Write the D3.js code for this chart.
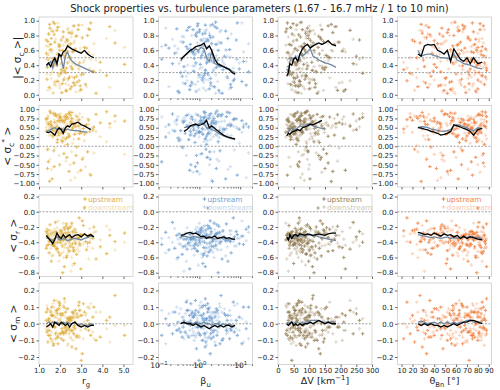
<!DOCTYPE html>
<html>
<head>
<meta charset="utf-8">
<script src="https://d3js.org/d3.v7.min.js"></script>
<style>
  body { margin: 0; background: #fff; }
  svg { font-family: "DejaVu Sans", sans-serif; }
  .axis path { display: none; }
  .axis line { stroke: #444; stroke-width: 0.8; }
  .axis text { font-size: 7px; fill: #222; font-family: "DejaVu Sans", sans-serif; }
</style>
</head>
<body>
<div id="chart"></div>
<script>
// shock parameters of each event (x of the four columns)
const rg = [1.45,2.10,1.82,2.65,3.10,1.55,2.30,2.05,1.70,2.85,2.40,1.35,3.45,2.20,1.95,2.55,1.60,2.75,4.20,2.00,
  1.88,2.48,3.25,1.40,2.15,2.90,1.75,2.35,3.70,2.60,1.50,2.25,1.98,2.70,1.65,3.05,2.45,1.85,5.05,2.12,
  2.80,1.42,2.58,3.35,1.92,2.28,1.72,3.90,2.38,2.02,1.58,2.95,2.18,1.68,2.52,3.15,1.38,2.42,1.80,4.60,
  2.08,2.62,1.52,3.55,2.32,1.90,2.72,2.22,1.62,3.00,2.50,1.78,2.88,1.48,2.26,3.30,2.05,1.95,2.68,4.35,
  1.44,2.36,3.20,1.86,2.56,1.66,2.98,2.14,3.60,1.74,2.44,2.78,1.56,3.40,2.30,1.98,2.64,1.34,2.92,2.16];
const betaU = [1.2,0.45,2.8,0.9,1.6,5.5,0.3,1.1,3.2,0.7,1.9,0.25,8.5,1.4,0.6,2.3,12.0,0.85,1.3,4.1,
  0.55,1.75,0.18,2.6,1.0,6.8,0.4,1.5,3.6,0.95,2.1,0.35,1.25,14.0,0.75,1.85,4.8,0.5,1.05,2.9,
  0.65,1.45,9.5,0.28,1.7,3.0,0.8,2.2,0.15,1.35,5.0,0.6,1.15,2.5,0.42,1.6,7.2,0.88,1.95,3.4,
  0.32,1.28,2.7,0.72,1.55,11.0,0.52,1.08,4.4,0.98,2.0,0.22,1.4,6.0,0.68,1.8,3.8,0.48,1.22,2.4,
  0.12,1.65,5.8,0.78,1.38,3.1,0.58,2.15,16.0,0.92,1.5,0.38,2.55,1.02,4.6,0.62,1.9,8.0,0.82,1.18];
const deltaV = [45,120,70,160,35,85,210,60,95,140,55,75,30,110,180,65,50,130,90,250,
  40,100,80,150,25,68,195,58,125,88,170,48,105,72,38,135,62,230,82,115,
  52,145,92,28,78,190,66,108,42,270,98,56,155,74,33,128,86,175,46,112,
  64,205,94,36,138,70,54,165,102,44,84,240,60,118,32,96,148,76,50,185,
  68,104,40,132,88,58,215,72,122,48,160,90,36,78,142,62,100,260,54,116];
const thetaBn = [45,72,30,85,60,55,78,20,66,82,50,38,75,88,62,25,70,48,84,58,
  35,80,68,42,76,15,64,86,52,74,28,81,57,46,70,33,87,63,40,79,
  54,22,73,67,83,49,36,77,61,18,71,44,85,59,31,80,65,52,75,27,
  69,83,47,39,78,56,87,24,62,72,43,81,66,34,76,58,12,84,51,68,
  74,40,86,63,29,79,55,71,46,82,60,37,77,53,88,65,32,73,57,80];

// turbulence parameters of each event (y of the four rows)
const sigmaCUp = [0.82,0.15,0.47,0.93,0.28,0.61,0.05,0.74,0.39,0.88,0.22,0.56,0.97,0.33,0.68,0.11,0.45,0.79,0.26,0.52,
  0.91,0.08,0.63,0.37,0.85,0.19,0.71,0.43,0.02,0.58,0.95,0.30,0.66,0.13,0.49,0.77,0.24,0.87,0.41,0.60,
  0.17,0.72,0.35,0.89,0.54,0.06,0.81,0.44,0.67,0.29,0.76,0.12,0.53,0.98,0.38,0.64,0.21,0.84,0.46,0.70,
  0.03,0.59,0.90,0.32,0.75,0.18,0.62,0.50,0.86,0.27,0.69,0.42,0.94,0.10,0.57,0.80,0.34,0.65,0.23,0.92,
  0.48,0.73,0.14,0.55,0.83,0.40,0.07,0.78,0.31,0.96,0.51,0.25,0.68,0.88,0.36,0.60,0.16,0.74,0.43,0.20];
const sigmaCDown = [0.55,0.32,0.18,0.70,0.44,0.08,0.62,0.27,0.85,0.39,0.13,0.66,0.48,0.21,0.92,0.35,0.58,0.04,0.76,0.41,
  0.29,0.83,0.11,0.53,0.67,0.36,0.16,0.88,0.47,0.24,0.60,0.72,0.09,0.45,0.31,0.94,0.52,0.19,0.64,0.38,
  0.80,0.06,0.43,0.57,0.26,0.71,0.14,0.33,0.90,0.50,0.22,0.63,0.37,0.02,0.78,0.46,0.28,0.59,0.12,0.87,
  0.42,0.17,0.68,0.54,0.30,0.97,0.40,0.23,0.61,0.07,0.49,0.75,0.34,0.82,0.15,0.56,0.44,0.25,0.73,0.10,
  0.65,0.20,0.51,0.39,0.86,0.03,0.58,0.31,0.69,0.18,0.46,0.79,0.27,0.35,0.60,0.13,0.93,0.48,0.05,0.57];
const sigmaCStarUp = [0.62,0.35,0.81,-0.45,0.48,0.90,0.22,0.70,-0.12,0.55,0.88,0.41,-0.78,0.66,0.30,0.75,0.52,-0.25,0.93,0.45,
  0.18,0.84,0.58,-0.60,0.38,0.72,0.64,0.05,0.86,0.50,-0.95,0.42,0.77,0.60,0.28,-0.35,0.92,0.54,0.68,0.12,
  0.80,-0.08,0.46,0.71,0.36,0.85,-0.55,0.63,0.25,0.78,0.57,0.40,-0.20,0.89,0.67,0.33,0.74,-0.68,0.49,0.82,
  0.15,0.60,0.95,0.44,-0.30,0.69,0.53,0.79,-0.88,0.37,0.65,0.87,0.20,0.58,0.73,-0.15,0.47,0.83,0.32,0.61,
  -0.42,0.76,0.55,0.10,0.91,0.43,-0.65,0.70,0.52,0.84,0.27,-0.02,0.66,0.39,0.80,-0.50,0.59,0.74,0.34,0.48];
const sigmaCStarDown = [0.45,0.70,0.28,0.55,-0.30,0.62,0.80,0.38,0.52,-0.70,0.33,0.66,0.48,0.20,0.75,-0.15,0.58,0.42,0.12,0.68,
  0.86,-0.50,0.36,0.60,0.25,0.54,-0.05,0.72,0.40,0.63,0.50,0.18,0.69,-0.85,0.46,0.78,0.30,0.57,-0.22,0.65,
  0.35,0.82,0.08,0.59,0.44,-0.40,0.71,0.26,0.53,0.88,-0.62,0.48,0.64,0.32,0.77,0.15,-0.10,0.56,0.41,0.67,
  0.22,0.73,-0.35,0.50,0.61,0.38,0.84,0.02,0.47,0.58,-0.92,0.43,0.69,0.29,0.55,0.74,0.37,-0.25,0.62,0.51,
  0.79,0.34,-0.55,0.66,0.45,0.23,0.60,0.81,-0.18,0.40,0.57,0.70,0.31,-0.75,0.48,0.64,0.19,0.52,0.87,0.36];
const sigmaRUp = [-0.32,-0.45,-0.28,-0.52,-0.18,-0.38,-0.60,-0.25,-0.41,-0.35,-0.22,-0.48,-0.30,-0.72,-0.36,-0.15,-0.43,-0.27,-0.55,-0.33,
  -0.40,-0.20,-0.50,-0.29,-0.37,-0.08,-0.46,-0.31,-0.62,-0.26,-0.39,-0.34,-0.57,-0.23,-0.44,-0.12,-0.38,-0.49,-0.28,-0.80,
  -0.35,-0.24,-0.42,-0.31,-0.53,-0.19,-0.37,-0.46,-0.27,-0.40,-0.65,-0.30,-0.21,-0.44,-0.36,0.05,-0.33,-0.51,-0.26,-0.39,
  -0.29,-0.47,-0.17,-0.35,-0.58,-0.32,-0.42,-0.23,-0.38,-0.30,-0.45,-0.14,-0.34,-0.54,-0.28,-0.41,-0.25,-0.36,-0.68,-0.31,
  -0.43,-0.22,-0.39,-0.48,-0.33,-0.27,-0.75,-0.37,-0.20,-0.44,-0.34,-0.56,-0.29,-0.40,-0.16,-0.36,-0.50,-0.26,-0.42,-0.32];
const sigmaRDown = [-0.38,-0.28,-0.50,-0.33,-0.42,-0.25,-0.36,-0.55,-0.30,-0.45,-0.40,-0.22,-0.35,-0.47,-0.27,-0.60,-0.32,-0.41,-0.19,-0.37,
  -0.29,-0.52,-0.34,-0.44,-0.15,-0.39,-0.31,-0.48,-0.26,-0.70,-0.36,-0.43,-0.24,-0.38,-0.57,-0.30,-0.46,-0.21,-0.40,-0.33,
  -0.49,-0.28,-0.35,-0.62,-0.32,-0.41,-0.23,-0.37,-0.54,-0.29,-0.36,-0.44,-0.27,-0.39,-0.78,-0.31,-0.45,-0.20,-0.34,-0.50,
  -0.42,-0.26,-0.38,-0.48,-0.30,-0.12,-0.35,-0.43,-0.58,-0.33,-0.28,-0.40,-0.52,-0.25,-0.37,-0.46,-0.32,-0.65,-0.39,-0.24,
  -0.35,-0.47,-0.30,-0.41,-0.18,-0.36,-0.44,-0.53,-0.27,-0.38,-0.42,-0.31,-0.48,-0.22,-0.36,-0.40,-0.29,-0.45,-0.34,-0.60];
const sigmaMUp = [0.03,-0.05,0.08,-0.02,0.12,-0.09,0.01,0.05,-0.12,0.04,-0.03,0.07,-0.07,0.15,0.00,-0.04,0.10,-0.15,0.02,0.06,
  -0.08,0.04,-0.01,0.09,-0.06,0.13,-0.02,0.03,-0.10,0.07,0.01,-0.05,0.11,-0.03,0.05,-0.18,0.02,0.08,-0.07,0.00,
  0.06,-0.11,0.04,-0.04,0.09,-0.02,0.14,-0.08,0.03,-0.06,0.05,-0.01,0.10,-0.13,0.02,0.07,-0.05,0.01,-0.09,0.17,
  -0.03,0.06,-0.07,0.04,0.00,-0.12,0.08,-0.02,0.05,-0.22,0.03,-0.06,0.11,-0.04,0.07,0.02,-0.09,0.13,-0.01,0.04,
  -0.07,0.09,-0.03,0.06,-0.14,0.01,0.05,-0.05,0.10,-0.02,0.03,-0.08,0.07,0.00,-0.04,0.12,-0.06,0.02,0.08,-0.10];
const sigmaMDown = [-0.02,0.06,-0.05,0.03,-0.09,0.08,-0.04,0.01,0.10,-0.07,0.04,-0.01,0.12,-0.06,0.02,0.07,-0.11,0.05,-0.03,0.09,
  0.00,-0.08,0.06,-0.04,0.11,-0.02,0.04,-0.13,0.07,-0.05,0.03,0.09,-0.06,0.01,-0.10,0.05,-0.03,0.14,-0.01,0.06,
  -0.07,0.02,-0.04,0.10,-0.08,0.04,-0.02,0.07,-0.12,0.03,-0.05,0.08,-0.03,0.05,-0.09,0.01,0.11,-0.06,0.04,-0.01,
  0.06,-0.10,0.02,-0.05,0.09,0.03,-0.07,0.13,-0.02,0.05,-0.04,0.07,-0.08,0.02,-0.03,0.10,0.00,-0.06,0.04,-0.11,
  0.08,-0.02,0.05,-0.07,0.03,0.12,-0.04,0.06,-0.09,0.01,-0.05,0.04,-0.01,0.09,-0.06,0.02,0.07,-0.03,-0.08,0.05];

// running means: x positions per column, y per row (one list per column)
const meanXRg = [1.35,1.45,1.55,1.65,1.75,1.85,1.95,2.05,2.15,2.25,2.35,2.45,2.55,2.7,2.85,3.0,3.15,3.3,3.45,3.6];
const meanXBeta = [0.35,0.42,0.5,0.6,0.7,0.82,0.95,1.1,1.3,1.5,1.75,2.0,2.4,2.8,3.3,3.9,4.6,5.4,6.3,7.5];
const meanXDV = [28,33,38,44,50,56,63,70,78,86,94,103,112,121,130,140,150,160,172,185];
const meanXTheta = [25,28,31,34,37,40,43,46,49,52,55,58,61,64,67,70,73,76,80,84];

const sigmaCMeanUp = [
  [0.40,0.43,0.38,0.45,0.50,0.42,0.55,0.52,0.58,0.60,0.66,0.64,0.62,0.60,0.58,0.56,0.60,0.55,0.52,0.50],
  [0.48,0.52,0.56,0.60,0.62,0.65,0.66,0.67,0.70,0.62,0.66,0.60,0.48,0.42,0.40,0.38,0.36,0.34,0.30,0.28],
  [0.25,0.30,0.42,0.40,0.48,0.50,0.45,0.55,0.62,0.66,0.68,0.63,0.66,0.68,0.70,0.68,0.70,0.73,0.68,0.66],
  [0.55,0.52,0.66,0.68,0.67,0.68,0.60,0.58,0.55,0.60,0.45,0.62,0.55,0.48,0.45,0.50,0.42,0.50,0.42,0.44]];
const sigmaCMeanDown = [
  [0.38,0.42,0.45,0.36,0.48,0.40,0.55,0.50,0.35,0.52,0.58,0.50,0.46,0.42,0.40,0.38,0.36,0.34,0.32,0.30],
  [0.45,0.52,0.55,0.60,0.58,0.62,0.60,0.64,0.62,0.50,0.45,0.58,0.42,0.40,0.38,0.38,0.36,0.35,0.32,0.30],
  [0.35,0.30,0.45,0.50,0.48,0.52,0.45,0.55,0.52,0.55,0.58,0.62,0.52,0.50,0.47,0.45,0.43,0.42,0.40,0.37],
  [0.60,0.52,0.54,0.55,0.55,0.53,0.52,0.50,0.50,0.49,0.48,0.55,0.47,0.45,0.42,0.41,0.40,0.38,0.36,0.35]];
const sigmaCStarMeanUp = [
  [0.38,0.37,0.40,0.35,0.30,0.42,0.50,0.45,0.35,0.50,0.55,0.52,0.60,0.62,0.65,0.58,0.55,0.50,0.45,null],
  [null,0.40,0.45,0.55,0.58,0.60,0.56,0.58,0.62,0.70,0.50,0.55,0.48,0.42,0.36,0.30,0.26,0.24,0.22,0.20],
  [0.28,0.35,0.32,0.38,0.40,0.42,0.45,0.42,0.50,0.52,0.55,0.60,0.58,0.62,0.65,0.70,null,null,null,null],
  [0.50,0.49,0.46,0.44,0.40,0.38,0.35,0.30,0.32,0.35,0.40,0.58,0.55,0.52,0.48,0.45,0.40,0.30,0.45,0.48]];
const sigmaCStarMeanDown = [
  [0.40,0.42,0.45,0.48,0.50,0.46,0.45,0.48,0.44,0.45,0.46,0.44,0.43,0.42,0.42,0.40,0.39,0.38,null,null],
  [null,0.50,0.52,0.54,0.55,0.57,0.60,0.62,0.60,0.50,0.48,0.45,0.42,0.36,0.32,0.28,0.25,0.22,0.20,0.18],
  [0.40,0.38,0.45,0.50,0.46,0.45,0.50,0.55,0.53,0.55,0.60,0.58,0.55,0.52,0.50,0.48,0.48,null,null,null],
  [0.50,0.53,0.52,0.50,0.47,0.45,0.43,0.41,0.40,0.42,0.45,0.55,0.58,0.56,0.53,0.50,0.45,0.42,0.50,0.48]];
const sigmaRMeanUp = [
  [-0.31,-0.35,-0.38,-0.42,-0.36,-0.28,-0.33,-0.35,-0.30,-0.34,-0.32,-0.30,-0.34,-0.31,-0.30,-0.33,-0.29,-0.32,-0.30,-0.33],
  [-0.31,-0.30,-0.28,-0.27,-0.29,-0.28,-0.30,-0.33,-0.32,-0.35,-0.33,-0.34,-0.32,-0.35,-0.34,-0.33,-0.35,-0.34,-0.36,-0.36],
  [-0.33,-0.37,-0.30,-0.35,-0.31,-0.30,-0.32,-0.29,-0.30,-0.31,-0.29,-0.30,-0.31,-0.30,-0.29,-0.30,-0.31,-0.29,-0.28,-0.28],
  [-0.27,-0.28,-0.30,-0.29,-0.31,-0.28,-0.30,-0.32,-0.29,-0.31,-0.30,-0.33,-0.31,-0.35,-0.32,-0.35,-0.33,-0.34,-0.36,-0.37]];
const sigmaRMeanDown = [
  [-0.35,-0.34,-0.36,-0.38,-0.35,-0.33,-0.36,-0.37,-0.35,-0.36,-0.38,-0.37,-0.36,-0.35,-0.36,-0.37,-0.35,-0.34,-0.32,-0.33],
  [-0.33,-0.32,-0.33,-0.34,-0.32,-0.33,-0.34,-0.35,-0.34,-0.33,-0.35,-0.34,-0.36,-0.35,-0.34,-0.36,-0.35,-0.36,-0.35,-0.37],
  [-0.36,-0.35,-0.34,-0.33,-0.34,-0.32,-0.33,-0.31,-0.32,-0.30,-0.31,-0.30,-0.32,-0.31,-0.33,-0.34,-0.35,-0.36,-0.37,-0.38],
  [-0.30,-0.31,-0.32,-0.33,-0.34,-0.33,-0.34,-0.35,-0.34,-0.33,-0.35,-0.34,-0.35,-0.34,-0.33,-0.34,-0.32,-0.33,-0.34,-0.35]];
const sigmaMMeanUp = [
  [-0.02,-0.01,0.00,-0.02,0.01,0.00,-0.01,0.01,0.00,-0.01,0.00,-0.02,0.00,0.01,-0.01,-0.02,-0.01,-0.02,-0.01,-0.01],
  [0.00,0.01,0.00,0.00,-0.01,0.00,-0.01,-0.02,-0.01,-0.02,-0.03,-0.02,-0.01,-0.02,-0.01,-0.02,-0.01,-0.01,-0.02,-0.01],
  [0.00,-0.01,0.00,0.01,-0.01,0.00,-0.01,0.00,-0.01,0.00,0.00,0.01,0.00,0.01,0.02,0.01,0.00,0.01,0.00,0.00],
  [0.00,-0.01,0.00,-0.01,0.00,-0.01,-0.01,-0.02,-0.01,-0.02,-0.01,0.00,-0.01,0.00,0.01,0.01,0.02,0.02,0.01,0.00]];
const sigmaMMeanDown = [
  [0.00,0.01,0.00,0.01,0.00,0.01,0.00,0.00,0.01,0.00,0.01,0.00,0.00,0.01,-0.01,0.00,-0.01,-0.01,0.00,-0.01],
  [0.01,0.00,0.01,0.01,0.00,0.01,0.00,0.00,0.01,0.00,0.00,-0.01,0.00,0.00,-0.01,0.00,-0.01,0.00,-0.01,-0.01],
  [0.01,0.00,0.01,0.01,0.00,0.01,0.01,0.00,0.01,0.01,0.01,0.02,0.02,0.02,0.02,0.01,0.01,0.01,0.01,0.01],
  [0.01,0.015,0.01,0.00,0.005,0.01,0.00,0.01,0.00,0.01,0.00,0.01,0.00,0.01,0.01,0.02,0.02,0.01,0.01,0.01]];

// tick labels
const yTicks = [
  [0, 0.2, 0.4, 0.6, 0.8, 1.0],
  [-1, -0.75, -0.5, -0.25, 0, 0.25, 0.5, 0.75, 1],
  [-0.8, -0.6, -0.4, -0.2, 0, 0.2],
  [-0.2, -0.1, 0, 0.1, 0.2]];
const yTickFormats = [".1f", ".2f", ".1f", ".1f"];
const refLines = [[0.3, 0.5], [0], [0], [0]];
const xTicks = [
  [1, 2, 3, 4, 5],
  [0.1, 1, 10],
  [0, 50, 100, 150, 200, 250, 300],
  [10, 20, 30, 40, 50, 60, 70, 80, 90]];
const colColors = ["#ddaa33", "#6699cc", "#8c7549", "#ee7733"];

const width = 500, height = 390;
const colLeft = [39, 158.5, 278, 397.5], panelW = 94;
const rowTop = [17, 105.5, 195, 283], panelH = 81.5;
const yLabelX = [21, 11, 17, 17];

const svg = d3.select("#chart").append("svg")
  .attr("width", width).attr("height", height);

const xScales = [
  d3.scaleLinear().domain([1, 5.45]).range([0, panelW]),
  d3.scaleLog().domain([0.1, 20]).range([0, panelW]),
  d3.scaleLinear().domain([0, 300]).range([0, panelW]),
  d3.scaleLinear().domain([6.3, 92.5]).range([0, panelW])];
const yScales = [
  d3.scaleLinear().domain([-0.05, 1.05]).range([panelH, 0]),
  d3.scaleLinear().domain([-1.1, 1.1]).range([panelH, 0]),
  d3.scaleLinear().domain([-0.85, 0.22]).range([panelH, 0]),
  d3.scaleLinear().domain([-0.245, 0.245]).range([panelH, 0])];

const xData = [rg, betaU, deltaV, thetaBn];
const meanX = [meanXRg, meanXBeta, meanXDV, meanXTheta];
const upData = [sigmaCUp, sigmaCStarUp, sigmaRUp, sigmaMUp];
const downData = [sigmaCDown, sigmaCStarDown, sigmaRDown, sigmaMDown];
const meanUp = [sigmaCMeanUp, sigmaCStarMeanUp, sigmaRMeanUp, sigmaMMeanUp];
const meanDown = [sigmaCMeanDown, sigmaCStarMeanDown, sigmaRMeanDown, sigmaMMeanDown];

// text with sub/superscripts: parts = [[string, "sub"|"sup"|null]]
function rich(sel, parts, fs) {
  let cur = 0;
  parts.forEach(([s, k]) => {
    const off = k === "sub" ? 0.28 * fs : k === "sup" ? -0.38 * fs : 0;
    sel.append("tspan")
      .attr("dy", off - cur)
      .style("font-size", (k ? 0.72 * fs : fs) + "px")
      .text(s);
    cur = off;
  });
}

const marker = d3.symbol().type(d3.symbolCross).size(6.5);

for (let r = 0; r < 4; r++) {
  for (let c = 0; c < 4; c++) {
    const x = xScales[c], y = yScales[r];
    const g = svg.append("g").attr("transform", `translate(${colLeft[c]},${rowTop[r]})`);
    const clipId = `clip-${r}-${c}`;
    g.append("clipPath").attr("id", clipId)
      .append("rect").attr("width", panelW).attr("height", panelH);
    const inner = g.append("g").attr("clip-path", `url(#${clipId})`);

    refLines[r].forEach(v => {
      inner.append("line")
        .attr("x1", 0).attr("x2", panelW)
        .attr("y1", y(v)).attr("y2", y(v))
        .attr("stroke", "#888").attr("stroke-width", 0.8)
        .attr("stroke-dasharray", "2,1.5");
    });

    const pts = xData[c].map((v, i) => ({ x: v, up: upData[r][i], down: downData[r][i] }));
    inner.selectAll(".up").data(pts).join("path")
      .attr("d", marker)
      .attr("transform", d => `translate(${x(d.x)},${y(d.up)})`)
      .attr("fill", colColors[c]).attr("opacity", 0.7);
    inner.selectAll(".down").data(pts).join("path")
      .attr("d", marker)
      .attr("transform", d => `translate(${x(d.x)},${y(d.down)})`)
      .attr("fill", colColors[c]).attr("opacity", 0.3);

    const line = d3.line()
      .defined(d => d[1] !== null)
      .x(d => x(d[0])).y(d => y(d[1]));
    inner.append("path")
      .datum(meanX[c].map((v, i) => [v, meanDown[r][c][i]]))
      .attr("d", line).attr("fill", "none")
      .attr("stroke", "#7088a0").attr("stroke-width", 1.3);
    inner.append("path")
      .datum(meanX[c].map((v, i) => [v, meanUp[r][c][i]]))
      .attr("d", line).attr("fill", "none")
      .attr("stroke", "#000").attr("stroke-width", 1.3);

    g.append("rect").attr("width", panelW).attr("height", panelH)
      .attr("fill", "none").attr("stroke", "#cccccc").attr("stroke-width", 0.8);

    g.append("g").attr("class", "axis")
      .call(d3.axisLeft(y).tickValues(yTicks[r]).tickFormat(d3.format(yTickFormats[r]))
        .tickSize(2.5).tickPadding(1.5));

    const xa = d3.axisBottom(x).tickValues(xTicks[c]).tickSize(2.5).tickPadding(1);
    if (r < 3) xa.tickFormat("");
    const xg = g.append("g").attr("class", "axis")
      .attr("transform", `translate(0,${panelH})`).call(xa);
    if (c === 1) {
      // minor log ticks
      const minor = [];
      [0.1, 1, 10].forEach(dec => { for (let k = 2; k <= 9; k++) if (dec * k <= 20) minor.push(dec * k); });
      xg.selectAll(".minor").data(minor).join("line")
        .attr("x1", d => x(d)).attr("x2", d => x(d))
        .attr("y1", 0).attr("y2", 1.5)
        .attr("stroke", "#444").attr("stroke-width", 0.6);
      if (r === 3) {
        xg.selectAll(".tick text").each(function(d) {
          const t = d3.select(this).text("");
          const e = Math.round(Math.log10(d));
          rich(t, [["10", null], [e < 0 ? "\u2212" + Math.abs(e) : String(e), "sup"]], 7.5);
        });
      }
    }

    if (r === 2) {
      const leg = g.append("g").attr("transform", `translate(${panelW - 45},0)`);
      [["upstream", 0.9, 6.5], ["downstream", 0.4, 14.5]].forEach(([lab, op, yy]) => {
        leg.append("path").attr("d", marker)
          .attr("transform", `translate(-3,${yy - 2.5})`)
          .attr("fill", colColors[c]).attr("opacity", op);
        leg.append("text").attr("x", 0).attr("y", yy)
          .style("font-size", "7.3px").attr("fill", colColors[c]).attr("opacity", op)
          .text(lab);
      });
    }
  }
}

// y labels
const yLabels = [
  [["|< \u03c3", null], ["c", "sub"], [" >|", null]],
  [["< \u03c3", null], ["c", "sub"], ["*", "sup"], [" >", null]],
  [["< \u03c3", null], ["r", "sub"], [" >", null]],
  [["< \u03c3", null], ["m", "sub"], [" >", null]]];
yLabels.forEach((parts, r) => {
  const t = svg.append("text")
    .attr("transform", `translate(${yLabelX[r]},${rowTop[r] + panelH / 2}) rotate(-90)`)
    .attr("text-anchor", "middle").attr("fill", "#222");
  rich(t, parts, 10.5);
});

// x labels
const xLabels = [
  [["r", null], ["g", "sub"]],
  [["\u03b2", null], ["u", "sub"]],
  [["\u0394V [km", null], ["\u22121", "sup"], ["]", null]],
  [["\u03b8", null], ["Bn", "sub"], [" [\u00b0]", null]]];
xLabels.forEach((parts, c) => {
  const t = svg.append("text")
    .attr("x", colLeft[c] + panelW / 2).attr("y", 384)
    .attr("text-anchor", "middle").attr("fill", "#222");
  rich(t, parts, 9.5);
});

svg.append("text")
  .attr("x", 259.5).attr("y", 12)
  .attr("text-anchor", "middle").attr("fill", "#222")
  .style("font-size", "10px")
  .text("Shock properties vs. turbulence parameters (1.67 - 16.7 mHz / 1 to 10 min)");
</script>
</body>
</html>
